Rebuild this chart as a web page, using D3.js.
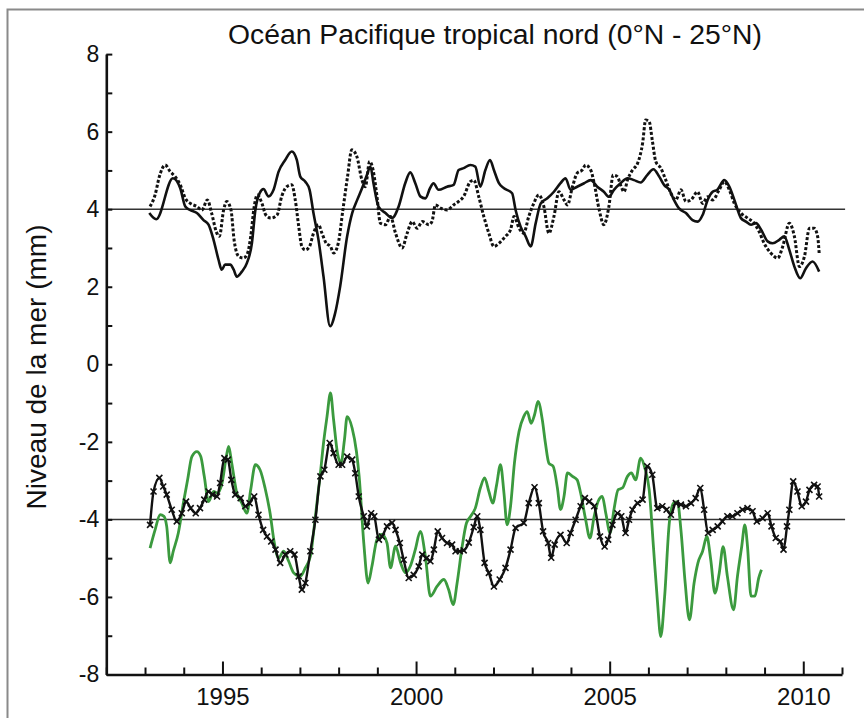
<!DOCTYPE html>
<html>
<head>
<meta charset="utf-8">
<script src="https://cdn.jsdelivr.net/npm/d3@7"></script>
<style>
  html, body { margin: 0; padding: 0; background: #ffffff; }
  svg { display: block; }
  text { font-family: "Liberation Sans", Arial, Helvetica, sans-serif; fill: #111; }
</style>
</head>
<body>
<svg id="chart" width="864" height="718"></svg>
<script>
// ---------- data ----------
const title = "Océan Pacifique tropical nord (0°N - 25°N)";
const yLabel = "Niveau de la mer (mm)";
const xDomain = [1992, 2011];
const yDomain = [-8, 8];
const xMajorTicks = [1995, 2000, 2005, 2010];
const xMinorTicks = [1992,1993,1994,1996,1997,1998,1999,2001,2002,2003,2004,2006,2007,2008,2009,2011];
const yTicks = [-8,-7,-6,-5,-4,-3,-2,-1,0,1,2,3,4,5,6,7,8];
const refLines = [4, -4];
const refLineEnd = 2011.08;

// upper panel, solid black
const upperSolid = [
[1993.11,3.90],[1993.29,3.74],[1993.72,4.80],[1993.91,4.54],[1994.04,4.07],[1994.16,3.98],[1994.34,3.90],[1994.51,3.72],[1994.64,3.60],[1994.77,3.21],[1994.90,2.69],[1994.98,2.44],[1995.07,2.57],[1995.20,2.57],[1995.29,2.44],[1995.37,2.26],[1995.50,2.39],[1995.63,2.61],[1995.76,3.12],[1995.85,3.98],[1995.96,4.41],[1996.06,4.52],[1996.19,4.33],[1996.32,4.50],[1996.45,4.97],[1996.62,5.27],[1996.79,5.49],[1996.92,5.27],[1997.01,4.84],[1997.14,4.71],[1997.25,4.50],[1997.35,3.90],[1997.48,3.21],[1997.61,2.26],[1997.78,0.98],[1997.91,1.32],[1998.04,2.01],[1998.22,3.30],[1998.35,3.90],[1998.48,4.24],[1998.62,4.58],[1998.73,4.88],[1998.82,5.10],[1998.90,4.67],[1999.03,4.07],[1999.21,3.90],[1999.38,3.77],[1999.55,4.07],[1999.72,4.67],[1999.85,4.95],[1999.98,4.67],[2000.11,4.33],[2000.24,4.28],[2000.36,4.54],[2000.45,4.67],[2000.58,4.50],[2000.80,4.58],[2000.97,4.63],[2001.10,5.01],[2001.23,5.06],[2001.40,5.14],[2001.53,5.10],[2001.66,4.58],[2001.79,5.01],[2001.91,5.27],[2002.01,5.01],[2002.14,4.67],[2002.27,4.54],[2002.48,4.41],[2002.57,3.98],[2002.70,3.55],[2002.83,3.30],[2002.96,3.04],[2003.09,3.64],[2003.22,4.15],[2003.39,4.28],[2003.56,4.45],[2003.73,4.67],[2003.86,4.80],[2003.99,4.50],[2004.16,4.58],[2004.34,4.67],[2004.51,4.75],[2004.68,4.58],[2004.85,4.45],[2004.98,4.32],[2005.11,4.50],[2005.28,4.67],[2005.46,4.80],[2005.63,4.75],[2005.80,4.69],[2005.97,4.88],[2006.13,5.03],[2006.28,4.84],[2006.41,4.62],[2006.54,4.50],[2006.66,4.24],[2006.79,4.02],[2006.97,3.90],[2007.14,3.72],[2007.27,3.68],[2007.40,3.85],[2007.53,4.24],[2007.66,4.45],[2007.78,4.50],[2007.96,4.75],[2008.09,4.58],[2008.22,4.24],[2008.39,3.77],[2008.52,3.68],[2008.65,3.60],[2008.78,3.64],[2008.91,3.47],[2009.08,3.17],[2009.21,3.12],[2009.38,3.21],[2009.51,3.30],[2009.64,2.95],[2009.77,2.52],[2009.92,2.22],[2010.07,2.48],[2010.24,2.65],[2010.41,2.39]
];

// upper panel, dotted black
const upperDotted = [
[1993.13,4.07],[1993.26,4.37],[1993.37,4.84],[1993.52,5.14],[1993.65,4.97],[1993.78,4.84],[1993.91,4.63],[1994.04,4.28],[1994.17,4.15],[1994.34,4.07],[1994.47,3.98],[1994.61,4.24],[1994.72,3.90],[1994.84,3.42],[1994.92,3.30],[1995.03,3.98],[1995.11,4.20],[1995.22,3.98],[1995.30,3.21],[1995.42,2.78],[1995.54,2.74],[1995.65,2.87],[1995.73,3.30],[1995.82,4.07],[1995.90,4.37],[1996.02,4.15],[1996.12,3.85],[1996.25,3.77],[1996.41,3.85],[1996.53,4.33],[1996.66,4.58],[1996.79,4.63],[1996.88,4.24],[1996.97,3.55],[1997.05,3.04],[1997.14,2.95],[1997.25,3.04],[1997.35,3.38],[1997.48,3.60],[1997.57,3.38],[1997.68,3.12],[1997.79,3.04],[1997.87,2.87],[1997.99,3.12],[1998.11,3.98],[1998.23,4.84],[1998.34,5.53],[1998.47,5.36],[1998.60,4.76],[1998.69,4.58],[1998.80,5.23],[1998.89,5.01],[1998.98,4.41],[1999.08,3.64],[1999.21,3.60],[1999.34,3.81],[1999.47,3.38],[1999.64,3.00],[1999.77,3.38],[1999.90,3.68],[2000.03,3.51],[2000.16,3.68],[2000.33,3.60],[2000.41,3.68],[2000.50,4.11],[2000.63,4.03],[2000.80,3.98],[2000.97,4.11],[2001.10,4.20],[2001.23,4.33],[2001.40,4.71],[2001.49,4.75],[2001.62,4.32],[2001.75,3.81],[2001.88,3.38],[2002.01,3.04],[2002.14,3.12],[2002.31,3.30],[2002.44,3.47],[2002.53,3.81],[2002.66,3.51],[2002.78,3.38],[2002.91,3.81],[2003.04,4.15],[2003.17,4.37],[2003.30,4.07],[2003.43,3.38],[2003.56,3.81],[2003.69,4.45],[2003.82,4.24],[2003.91,4.11],[2004.04,4.58],[2004.16,4.93],[2004.29,5.01],[2004.38,5.14],[2004.51,5.01],[2004.60,4.67],[2004.73,3.98],[2004.85,3.60],[2004.98,4.07],[2005.09,4.88],[2005.20,4.84],[2005.28,4.63],[2005.37,4.45],[2005.46,4.75],[2005.59,5.01],[2005.72,5.18],[2005.85,5.70],[2005.93,6.30],[2006.02,6.26],[2006.10,5.78],[2006.19,5.23],[2006.32,5.06],[2006.45,4.75],[2006.58,4.41],[2006.71,4.24],[2006.84,4.50],[2006.97,4.20],[2007.10,4.24],[2007.27,4.45],[2007.40,4.15],[2007.53,4.32],[2007.66,4.24],[2007.83,4.50],[2007.96,4.71],[2008.09,4.50],[2008.22,4.15],[2008.39,3.90],[2008.56,3.77],[2008.73,3.64],[2008.86,3.42],[2008.99,3.12],[2009.16,2.87],[2009.34,2.74],[2009.47,3.04],[2009.64,3.64],[2009.77,3.30],[2009.90,2.52],[2010.03,2.78],[2010.16,3.51],[2010.28,3.51],[2010.37,3.30],[2010.41,2.87]
];

// lower panel, black with x markers
const lowerMarked = [
[1993.13,-4.14],[1993.22,-3.28],[1993.37,-2.93],[1993.47,-3.15],[1993.56,-3.36],[1993.69,-3.75],[1993.82,-4.05],[1993.95,-3.84],[1994.06,-3.54],[1994.18,-3.71],[1994.31,-3.84],[1994.42,-3.71],[1994.53,-3.49],[1994.64,-3.28],[1994.74,-3.36],[1994.86,-3.41],[1994.94,-3.06],[1995.05,-2.42],[1995.14,-2.46],[1995.23,-2.98],[1995.33,-3.36],[1995.47,-3.45],[1995.59,-3.66],[1995.70,-3.58],[1995.82,-3.41],[1995.93,-3.88],[1996.05,-4.27],[1996.15,-4.44],[1996.26,-4.57],[1996.37,-4.78],[1996.49,-5.12],[1996.62,-4.91],[1996.75,-4.82],[1996.86,-4.91],[1996.97,-5.47],[1997.05,-5.81],[1997.14,-5.64],[1997.27,-4.82],[1997.40,-4.01],[1997.53,-2.89],[1997.63,-2.72],[1997.77,-2.03],[1997.87,-2.29],[1998.00,-2.59],[1998.09,-2.59],[1998.22,-2.38],[1998.35,-2.46],[1998.43,-2.81],[1998.52,-3.41],[1998.65,-3.92],[1998.73,-4.18],[1998.84,-3.84],[1998.92,-3.92],[1999.04,-4.52],[1999.12,-4.44],[1999.25,-4.18],[1999.38,-4.09],[1999.47,-4.27],[1999.58,-4.61],[1999.68,-5.04],[1999.81,-5.51],[1999.94,-5.43],[2000.07,-5.21],[2000.16,-4.91],[2000.27,-5.00],[2000.37,-5.08],[2000.46,-4.78],[2000.56,-4.31],[2000.67,-4.48],[2000.80,-4.61],[2000.93,-4.65],[2001.02,-4.82],[2001.13,-4.82],[2001.23,-4.80],[2001.36,-4.60],[2001.49,-4.20],[2001.58,-3.92],[2001.66,-4.27],[2001.77,-5.12],[2001.88,-5.38],[2002.01,-5.73],[2002.16,-5.55],[2002.31,-5.25],[2002.44,-4.78],[2002.57,-4.22],[2002.78,-4.09],[2002.91,-3.58],[2003.06,-3.17],[2003.17,-3.58],[2003.28,-4.31],[2003.41,-4.61],[2003.49,-4.99],[2003.58,-4.65],[2003.73,-4.40],[2003.89,-4.61],[2003.99,-4.35],[2004.12,-4.01],[2004.25,-3.66],[2004.36,-3.45],[2004.47,-3.54],[2004.60,-3.66],[2004.75,-4.44],[2004.87,-4.70],[2004.96,-4.52],[2005.07,-4.14],[2005.20,-3.84],[2005.30,-3.92],[2005.41,-4.35],[2005.50,-4.01],[2005.59,-3.75],[2005.72,-3.58],[2005.85,-3.49],[2005.97,-2.63],[2006.10,-2.85],[2006.23,-3.71],[2006.36,-3.66],[2006.47,-3.75],[2006.58,-3.88],[2006.71,-3.58],[2006.84,-3.62],[2006.97,-3.66],[2007.10,-3.58],[2007.22,-3.45],[2007.34,-3.19],[2007.44,-3.75],[2007.54,-4.35],[2007.66,-4.27],[2007.79,-4.18],[2007.91,-4.05],[2008.04,-3.92],[2008.17,-3.92],[2008.30,-3.84],[2008.43,-3.75],[2008.56,-3.71],[2008.69,-3.79],[2008.80,-4.05],[2008.95,-3.97],[2009.08,-3.84],[2009.18,-4.18],[2009.29,-4.48],[2009.41,-4.57],[2009.49,-4.78],[2009.58,-4.18],[2009.64,-3.75],[2009.74,-3.02],[2009.85,-3.28],[2009.96,-3.66],[2010.07,-3.54],[2010.16,-3.24],[2010.28,-3.11],[2010.37,-3.15],[2010.41,-3.41]
];

// lower panel, green
const lowerGreen = [
[1993.13,-4.74],[1993.26,-4.27],[1993.39,-3.88],[1993.49,-3.92],[1993.56,-4.18],[1993.65,-5.12],[1993.73,-4.82],[1993.86,-4.35],[1993.99,-3.58],[1994.10,-2.98],[1994.21,-2.38],[1994.34,-2.25],[1994.44,-2.38],[1994.53,-2.89],[1994.64,-3.54],[1994.77,-3.28],[1994.87,-3.32],[1994.99,-3.06],[1995.10,-2.38],[1995.16,-2.12],[1995.24,-2.55],[1995.37,-3.32],[1995.50,-3.58],[1995.63,-3.84],[1995.73,-3.23],[1995.85,-2.59],[1995.97,-2.72],[1996.10,-3.19],[1996.23,-3.84],[1996.34,-4.61],[1996.45,-5.00],[1996.58,-4.82],[1996.71,-5.08],[1996.84,-5.38],[1997.01,-5.47],[1997.14,-5.25],[1997.27,-4.95],[1997.40,-3.92],[1997.53,-2.80],[1997.61,-2.03],[1997.70,-1.35],[1997.79,-0.74],[1997.87,-1.43],[1997.97,-2.29],[1998.06,-2.55],[1998.15,-1.95],[1998.22,-1.35],[1998.35,-1.65],[1998.46,-2.25],[1998.53,-2.89],[1998.65,-4.61],[1998.76,-5.64],[1998.86,-5.21],[1998.99,-4.52],[1999.12,-4.39],[1999.25,-4.61],[1999.34,-5.25],[1999.47,-4.69],[1999.60,-5.12],[1999.73,-5.38],[1999.85,-5.21],[1999.98,-4.78],[2000.11,-4.31],[2000.24,-4.95],[2000.37,-5.98],[2000.54,-5.73],[2000.72,-5.55],[2000.84,-5.81],[2000.96,-6.20],[2001.06,-5.64],[2001.19,-4.70],[2001.30,-4.10],[2001.41,-3.92],[2001.53,-3.71],[2001.66,-3.19],[2001.77,-2.93],[2001.88,-3.28],[2001.98,-3.58],[2002.08,-3.11],[2002.18,-2.59],[2002.27,-3.32],[2002.35,-4.14],[2002.44,-3.66],[2002.54,-2.55],[2002.66,-1.73],[2002.78,-1.35],[2002.87,-1.22],[2002.97,-1.52],[2003.06,-1.30],[2003.15,-0.96],[2003.26,-1.43],[2003.34,-2.03],[2003.43,-2.55],[2003.54,-2.63],[2003.65,-3.19],[2003.73,-3.75],[2003.82,-3.41],[2003.91,-2.80],[2004.04,-2.89],[2004.16,-2.98],[2004.25,-3.32],[2004.38,-4.01],[2004.49,-4.48],[2004.60,-3.92],[2004.70,-3.54],[2004.81,-3.41],[2004.90,-3.84],[2005.01,-4.35],[2005.11,-3.75],[2005.22,-3.23],[2005.33,-3.19],[2005.46,-2.89],[2005.56,-2.80],[2005.67,-2.98],[2005.80,-2.42],[2005.91,-2.68],[2006.02,-3.23],[2006.13,-4.70],[2006.23,-6.07],[2006.32,-7.02],[2006.42,-5.98],[2006.54,-4.09],[2006.65,-3.58],[2006.75,-3.54],[2006.84,-4.27],[2006.95,-5.64],[2007.06,-6.59],[2007.18,-5.64],[2007.28,-5.12],[2007.40,-4.82],[2007.51,-4.44],[2007.61,-5.04],[2007.72,-5.90],[2007.83,-5.38],[2007.93,-4.70],[2008.04,-5.47],[2008.20,-6.33],[2008.30,-5.47],[2008.41,-4.70],[2008.49,-4.14],[2008.56,-4.70],[2008.65,-5.98],[2008.75,-5.98],[2008.85,-5.51],[2008.92,-5.30]
];

// ---------- drawing ----------
const svg = d3.select("#chart");
const x = d3.scaleLinear().domain(xDomain).range([106.3, 842]);
const y = d3.scaleLinear().domain(yDomain).range([674.5, 54.1]);

// outer frame (top and left edges)
svg.append("path")
  .attr("d", "M7.5,730 L7.5,9.5 L870,9.5")
  .attr("fill", "none").attr("stroke", "#8a8a8a").attr("stroke-width", 2);

// title
svg.append("text")
  .attr("x", 495).attr("y", 44)
  .attr("text-anchor", "middle")
  .attr("font-size", 27)
  .attr("textLength", 534).attr("lengthAdjust", "spacingAndGlyphs")
  .text(title);

// y label
svg.append("text")
  .attr("transform", "translate(46,367) rotate(-90)")
  .attr("text-anchor", "middle")
  .attr("font-size", 27)
  .attr("textLength", 285).attr("lengthAdjust", "spacingAndGlyphs")
  .text(yLabel);

// reference lines
svg.selectAll("line.ref").data(refLines).enter().append("line")
  .attr("class", "ref")
  .attr("x1", x(xDomain[0])).attr("x2", x(refLineEnd))
  .attr("y1", d => y(d)).attr("y2", d => y(d))
  .attr("stroke", "#333").attr("stroke-width", 1.5);

// series
const line = d3.line().x(d => x(d[0])).y(d => y(d[1])).curve(d3.curveMonotoneX);

svg.append("path").datum(lowerGreen)
  .attr("d", line).attr("fill", "none")
  .attr("stroke", "#3b9a3e").attr("stroke-width", 2.8).attr("stroke-linejoin", "round");

svg.append("path").datum(lowerMarked)
  .attr("d", line).attr("fill", "none")
  .attr("stroke", "#111").attr("stroke-width", 2.4).attr("stroke-linejoin", "round");

const mk = 3;
svg.append("g").selectAll("path").data(lowerMarked).enter().append("path")
  .attr("transform", d => `translate(${x(d[0])},${y(d[1])})`)
  .attr("d", `M${-mk},${-mk}L${mk},${mk}M${-mk},${mk}L${mk},${-mk}`)
  .attr("stroke", "#111").attr("stroke-width", 1.6).attr("fill", "none");

svg.append("path").datum(upperDotted)
  .attr("d", line).attr("fill", "none")
  .attr("stroke", "#111").attr("stroke-width", 3)
  .attr("stroke-dasharray", "3,2");

svg.append("path").datum(upperSolid)
  .attr("d", line).attr("fill", "none")
  .attr("stroke", "#111").attr("stroke-width", 2.6).attr("stroke-linejoin", "round");

// y axis
const yAxis = d3.axisLeft(y)
  .tickValues(yTicks)
  .tickSizeInner(-6).tickSizeOuter(0).tickPadding(7)
  .tickFormat(d => (d % 2 === 0 ? String(d) : ""));
const gy = svg.append("g").attr("transform", `translate(${x(xDomain[0])},0)`).call(yAxis);
gy.select(".domain").attr("stroke", "#111").attr("stroke-width", 2.6);
gy.selectAll(".tick line").attr("stroke", "#111").attr("stroke-width", 2);
gy.selectAll(".tick text").attr("font-size", 23).attr("font-family", "Liberation Sans, Arial, sans-serif").attr("fill", "#111");

// x axis: minor ticks
const xMinor = d3.axisBottom(x)
  .tickValues(xMinorTicks)
  .tickSizeInner(-7).tickSizeOuter(0)
  .tickFormat("");
const gxm = svg.append("g").attr("transform", `translate(0,${y(yDomain[0])})`).call(xMinor);
gxm.select(".domain").attr("stroke", "#111").attr("stroke-width", 2.6);
gxm.selectAll(".tick line").attr("stroke", "#111").attr("stroke-width", 2);

// x axis: major ticks with labels
const xMajor = d3.axisBottom(x)
  .tickValues(xMajorTicks)
  .tickSizeInner(-13).tickSizeOuter(0).tickPadding(13)
  .tickFormat(d => String(d));
const gxM = svg.append("g").attr("transform", `translate(0,${y(yDomain[0])})`).call(xMajor);
gxM.select(".domain").remove();
gxM.selectAll(".tick line").attr("stroke", "#111").attr("stroke-width", 2);
gxM.selectAll(".tick text").attr("font-size", 24).attr("font-family", "Liberation Sans, Arial, sans-serif").attr("fill", "#111");
</script>
</body>
</html>
